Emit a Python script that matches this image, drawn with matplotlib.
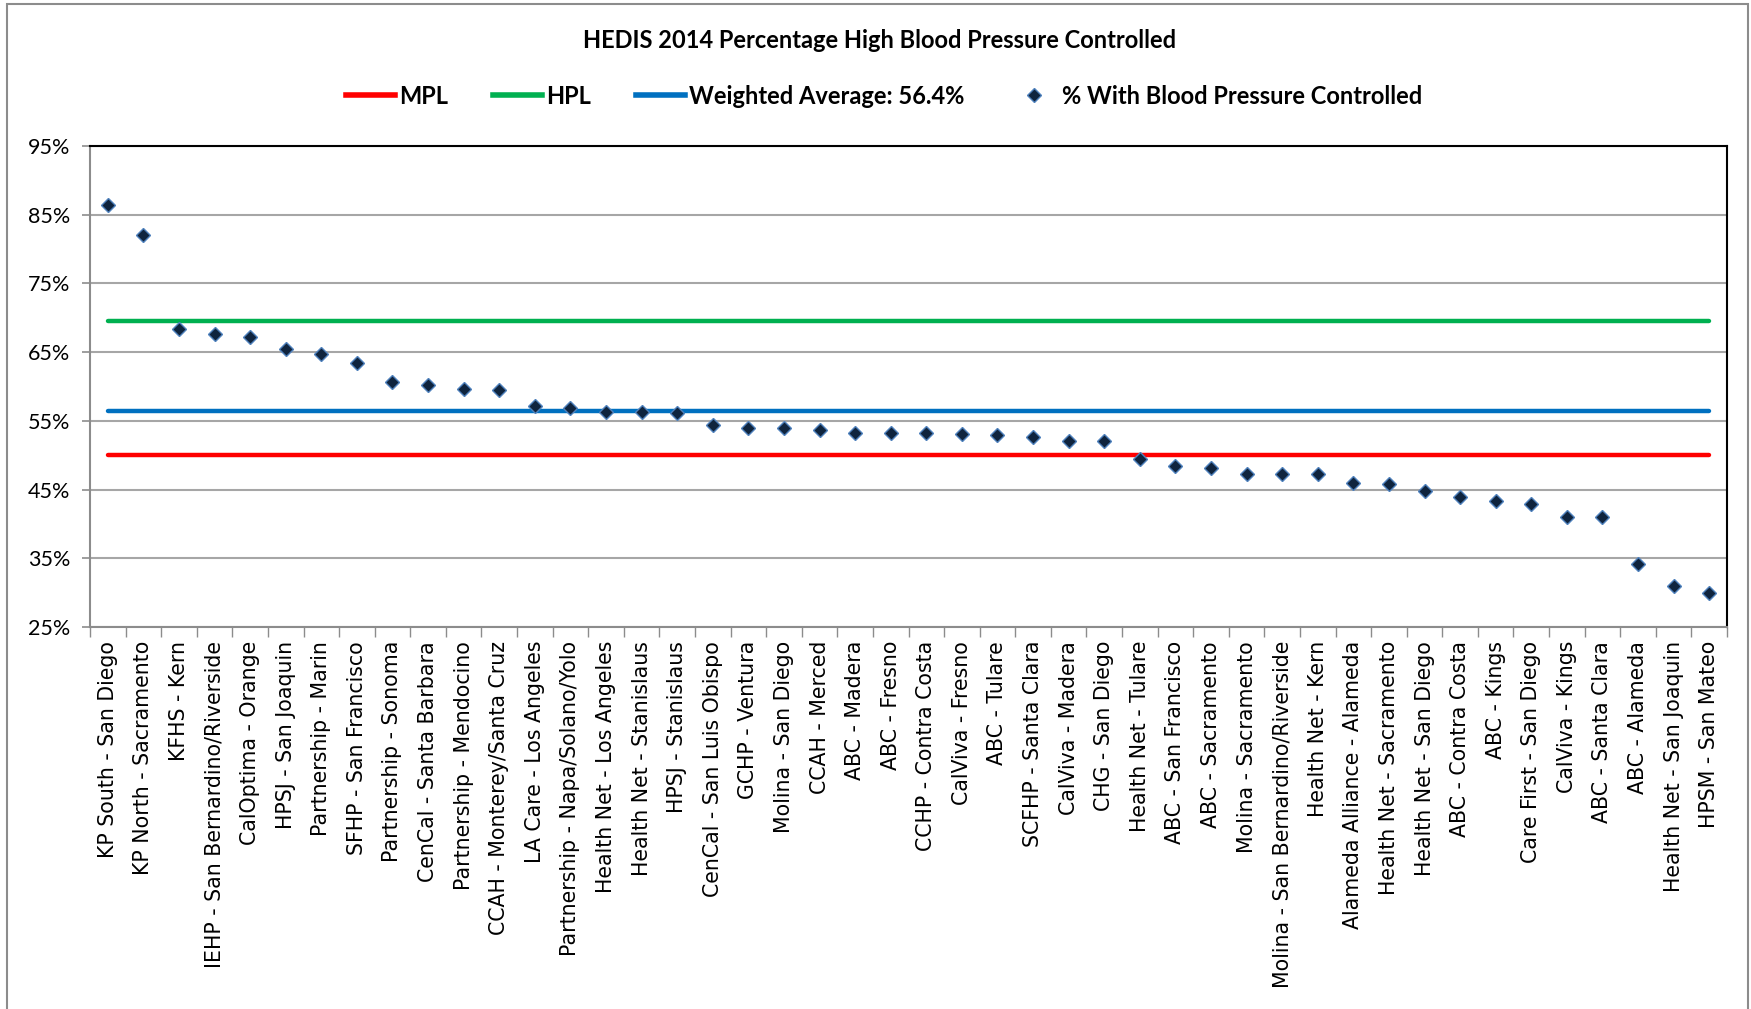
import matplotlib
matplotlib.use("Agg")
import matplotlib.pyplot as plt
import numpy as np
from matplotlib.lines import Line2D
from matplotlib.patches import Rectangle
from matplotlib.ticker import FixedLocator

plans = [
    "KP South - San Diego", "KP North - Sacramento", "KFHS - Kern",
    "IEHP - San Bernardino/Riverside", "CalOptima - Orange", "HPSJ - San Joaquin",
    "Partnership - Marin", "SFHP - San Francisco", "Partnership - Sonoma",
    "CenCal - Santa Barbara", "Partnership - Mendocino", "CCAH - Monterey/Santa Cruz",
    "LA Care - Los Angeles", "Partnership - Napa/Solano/Yolo", "Health Net - Los Angeles",
    "Health Net - Stanislaus", "HPSJ - Stanislaus", "CenCal - San Luis Obispo",
    "GCHP - Ventura", "Molina - San Diego", "CCAH - Merced", "ABC - Madera",
    "ABC - Fresno", "CCHP - Contra Costa", "CalViva - Fresno", "ABC - Tulare",
    "SCFHP - Santa Clara", "CalViva - Madera", "CHG - San Diego", "Health Net - Tulare",
    "ABC - San Francisco", "ABC - Sacramento", "Molina - Sacramento",
    "Molina - San Bernardino/Riverside", "Health Net - Kern", "Alameda Alliance - Alameda",
    "Health Net - Sacramento", "Health Net - San Diego", "ABC - Contra Costa",
    "ABC - Kings", "Care First - San Diego", "CalViva - Kings", "ABC - Santa Clara",
    "ABC - Alameda", "Health Net - San Joaquin", "HPSM - San Mateo",
]
pct_controlled = [
    86.4, 82.0, 68.4, 67.6, 67.2, 65.4, 64.8, 63.4, 60.7, 60.2, 59.6, 59.5,
    57.2, 56.8, 56.3, 56.3, 56.2, 54.4, 54.0, 53.9, 53.6, 53.3,
    53.3, 53.3, 53.1, 53.0, 52.6, 52.1, 52.1, 49.4, 48.5, 48.2, 47.3,
    47.3, 47.3, 46.0, 45.8, 44.8, 43.9, 43.3, 42.9, 41.0, 41.0,
    34.2, 31.0, 30.0,
]
mpl_value = 50.0
hpl_value = 69.6
weighted_avg = 56.4
yticks = [25, 35, 45, 55, 65, 75, 85, 95]

NARROW = ["Lato", "DejaVu Sans"]

W, H = 1751, 1009
fig = plt.figure(figsize=(W / 100, H / 100), dpi=100)
fig.patches.append(Rectangle((7 / W, -0.01), (1748 - 7) / W, 1.0 - 4 / H + 0.01,
                             transform=fig.transFigure, fill=False,
                             edgecolor="#8c8c8c", linewidth=1.5))
ax = fig.add_axes([90 / W, 1 - 627 / H, (1727 - 90) / W, (627 - 146) / H])

x = np.arange(len(plans))
n = len(plans)
ax.plot(x, [mpl_value] * n, color="#ff0000", lw=3.2, solid_capstyle="round", zorder=3)
ax.plot(x, [hpl_value] * n, color="#00b050", lw=3.2, solid_capstyle="round", zorder=3)
ax.plot(x, [weighted_avg] * n, color="#0070c0", lw=3.2, solid_capstyle="round", zorder=3)
ax.plot(x, pct_controlled, ls="none", marker="D", ms=7, mfc="#0f243e",
        mec="#4f81bd", mew=1.0, zorder=4)

ax.set_xlim(-0.5, n - 0.5)
ax.set_ylim(25, 95)
ax.set_yticks(yticks)
ax.set_yticklabels([f"{t}%" for t in yticks], family=NARROW, fontsize=15.5)
ax.yaxis.grid(True, color="#a6a6a6", lw=1.5)
ax.set_axisbelow(True)
ax.tick_params(axis="y", length=6, width=1.2, color="#8c8c8c", pad=8)

ax.set_xticks(x)
ax.set_xticklabels(plans, rotation=90, fontsize=14.8, family="DejaVu Sans")
ax.xaxis.set_minor_locator(FixedLocator(np.arange(-0.5, n, 1.0)))
ax.tick_params(axis="x", which="major", length=0, pad=10)
ax.tick_params(axis="x", which="minor", length=7, width=1.0, color="#8c8c8c")

for s in ("left", "bottom"):
    ax.spines[s].set_color("#8c8c8c")
    ax.spines[s].set_linewidth(1.5)
for s in ("top", "right"):
    ax.spines[s].set_color("black")
    ax.spines[s].set_linewidth(1.5)

fig.text(880 / W, 1 - 40 / H, "HEDIS 2014 Percentage High Blood Pressure Controlled",
         ha="center", va="center", fontsize=17, fontweight="bold", family=NARROW)

handles = [
    Line2D([], [], color="#ff0000", lw=4),
    Line2D([], [], color="#00b050", lw=4),
    Line2D([], [], color="#0070c0", lw=4),
    Line2D([], [], ls="none", marker="D", ms=7, mfc="#0f243e", mec="#4f81bd"),
]
labels = ["MPL", "HPL", f"Weighted Average: {weighted_avg}%", "% With Blood Pressure Controlled"]
fig.legend(handles, labels, loc="center", bbox_to_anchor=(884 / W, 1 - 96 / H), ncol=4,
           frameon=False, handlelength=2.1, handletextpad=0.15, columnspacing=1.9,
           prop={"family": NARROW, "weight": "bold", "size": 17})

fig.savefig("out.png", dpi=100)
